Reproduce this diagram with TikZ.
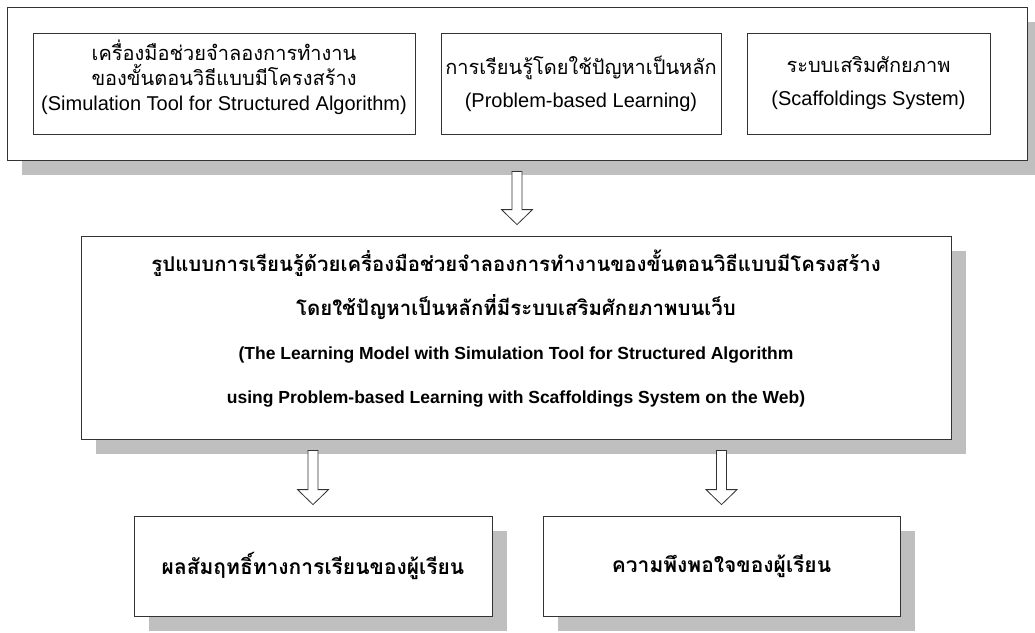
\documentclass[tikz,border=0pt]{standalone}
\usepackage{fontspec}
\setmainfont{Liberation Sans}
\newfontfamily\thaifont[Script=Thai]{Loma}
\usetikzlibrary{calc,shadows}

\tikzset{
  box/.style={draw=black!80,fill=white,line width=0.8pt,inner sep=0pt,align=center},
  shadowbox/.style={box,drop shadow={shadow xshift=15pt,shadow yshift=-15pt,fill=black!25,opacity=1}},
  fatarrow/.style={draw=black!80,fill=white,line width=0.8pt,line join=miter},
}

% hollow block arrow pointing down, from #1 to #2
\newcommand{\blockarrow}[2]{%
  \draw[fatarrow] let \p1=(#1), \p2=(#2) in
    (\x1-5pt,\y1) -- (\x1+5pt,\y1) -- (\x1+5pt,\y2+15pt) -- (\x1+15.5pt,\y2+15pt)
    -- (\x1,\y2) -- (\x1-15.5pt,\y2+15pt) -- (\x1-5pt,\y2+15pt) -- cycle;}

\begin{document}
\begin{tikzpicture}[x=1pt,y=-1pt]
  \useasboundingbox (0,0) rectangle (1035,632);
  \clip (0,0) rectangle (1035,632);

  % the three parts
  \node[shadowbox,minimum width=1020pt,minimum height=153pt] (basis) at (517,83.5) {};
  \node[box,minimum width=382pt,minimum height=101pt,text depth=16pt,font=\fontsize{20}{25}\selectfont] (simtool) at (224,83.5)
    {{\thaifont เครื่องมือช่วยจำลองการทำงาน}\\{\thaifont ของขั้นตอนวิธีแบบมีโครงสร้าง}\\(Simulation Tool for Structured Algorithm)};
  \node[box,minimum width=280pt,minimum height=101pt,font=\fontsize{20}{33}\selectfont] (pbl) at (581,83.5)
    {{\thaifont การเรียนรู้โดยใช้ปัญหาเป็นหลัก}\\(Problem-based Learning)};
  \node[box,minimum width=243pt,minimum height=101pt,font=\fontsize{20}{33}\selectfont] (scaffold) at (868.5,83.5)
    {{\thaifont ระบบเสริมศักยภาพ}\\(Scaffoldings System)};

  % the model
  \node[shadowbox,minimum width=870pt,minimum height=203pt,text depth=22pt,font=\fontsize{17.5}{44}\selectfont\bfseries] (model) at (516,337.5)
    {{\thaifont\fontsize{20.4}{44}\selectfont รูปแบบการเรียนรู้ด้วยเครื่องมือช่วยจำลองการทำงานของขั้นตอนวิธีแบบมีโครงสร้าง}\\
     {\thaifont\fontsize{20.4}{42}\selectfont โดยใช้ปัญหาเป็นหลักที่มีระบบเสริมศักยภาพบนเว็บ}\\
     (The Learning Model with Simulation Tool for Structured Algorithm\\
     using Problem-based Learning with Scaffoldings System on the Web)};

  % the outcomes
  \node[shadowbox,minimum width=358pt,minimum height=100pt,font=\thaifont\bfseries\fontsize{21}{25}\selectfont] (achieve) at (313,566)
    {ผลสัมฤทธิ์ทางการเรียนของผู้เรียน};
  \node[shadowbox,minimum width=357pt,minimum height=100pt,font=\thaifont\bfseries\fontsize{21}{25}\selectfont] (satisfy) at (721.5,566)
    {ความพึงพอใจของผู้เรียน};

  % arrows
  \coordinate (a1) at ($(basis.south)+(0,11)$);
  \coordinate (a2) at ($(model.north -| basis.south)+(0,-11)$);
  \blockarrow{a1}{a2}
  \coordinate (b1) at ($(model.south -| achieve.north)+(0,11)$);
  \coordinate (b2) at ($(achieve.north)+(0,-11)$);
  \blockarrow{b1}{b2}
  \coordinate (c1) at ($(model.south -| satisfy.north)+(0,11)$);
  \coordinate (c2) at ($(satisfy.north)+(0,-11)$);
  \blockarrow{c1}{c2}
\end{tikzpicture}
\end{document}
